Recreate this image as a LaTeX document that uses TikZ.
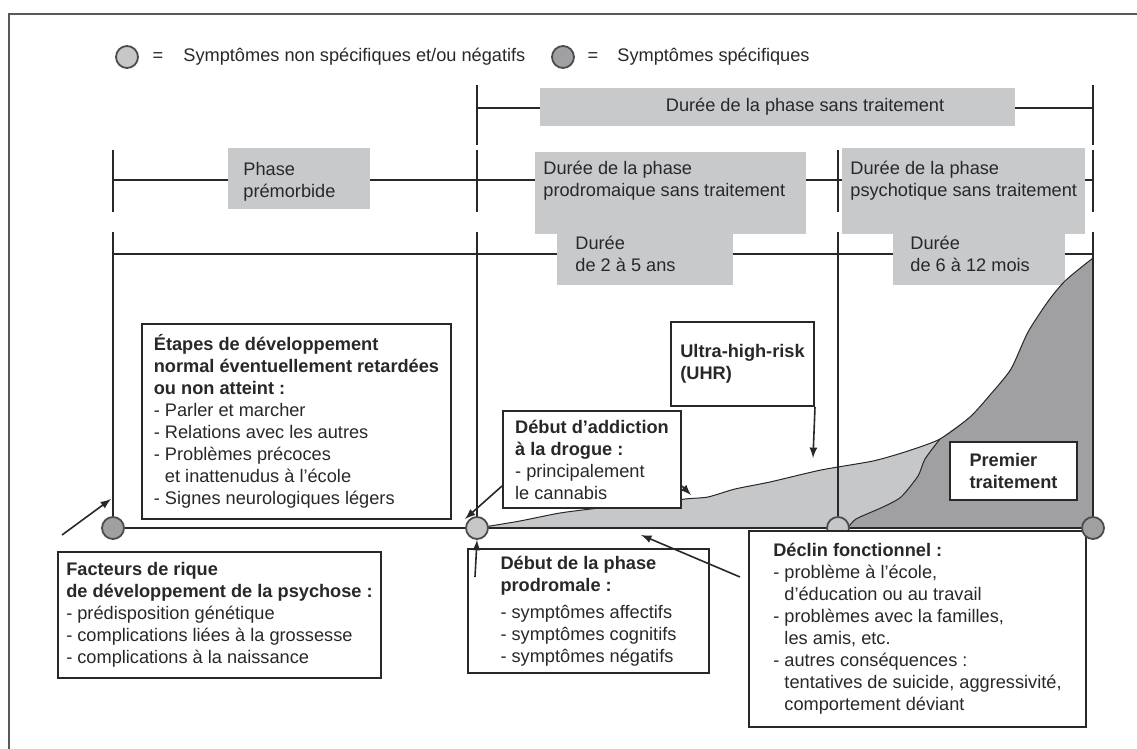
\documentclass[tikz,border=0pt]{standalone}
\usepackage{fontspec}
\setmainfont{Liberation Sans}
\usetikzlibrary{calc}

\definecolor{boxgray}{RGB}{200,201,203}
\definecolor{areagray}{RGB}{198,199,201}
\definecolor{deepgray}{RGB}{160,160,162}
\definecolor{inkgray}{RGB}{40,40,40}

\newcommand{\txt}{\fontsize{9.1}{11}\selectfont}

\tikzset{
	ink/.style={draw=inkgray, line width=0.8pt},
	phasebox/.style={fill=boxgray, anchor=north west, inner sep=0pt},
	phasetext/.style={anchor=west, align=left, inner sep=0pt, font=\txt, text=inkgray},
	infobox/.style={draw=inkgray, line width=1pt, fill=white, align=left, font=\txt, text=inkgray, inner sep=0pt, anchor=north west},
	lightdot/.style={circle, fill=areagray, draw=gray!60!black, line width=0.9pt, minimum size=11pt, inner sep=0pt},
	darkdot/.style={lightdot, fill=deepgray},
	pointer/.style={ink, -latex},
}

\begin{document}
\begin{tikzpicture}[x=0.5pt, y=-0.5pt]

	\useasboundingbox (0,0) rectangle (1137,749);

	% frame
	\draw[gray!70!black, line width=1pt] (9,749) -- (9,14) -- (1137,14);

	% legend
	\node[lightdot] (legA) at (127,57) {};
	\node[phasetext, anchor=center] (eqA) at (158,57) {=};
	\node[phasetext] (legAtxt) at (183,57) {Symptômes non spécifiques et/ou négatifs};
	\node[darkdot] (legB) at (563,57) {};
	\node[phasetext, anchor=center] (eqB) at (593,57) {=};
	\node[phasetext] (legBtxt) at (617,57) {Symptômes spécifiques};

	% timeline points
	\coordinate (t0) at (113,528);
	\coordinate (t1) at (477,528);
	\coordinate (t2) at (838,528);
	\coordinate (t3) at (1093,528);

	% row 1
	\coordinate (r1a) at (477,108);
	\coordinate (r1b) at (1093,108);
	\draw[ink] (r1a) -- (r1b);
	\draw[ink] ($(r1a)+(0,-23)$) -- ($(r1a)+(0,37)$);
	\draw[ink] ($(r1b)+(0,-23)$) -- ($(r1b)+(0,37)$);

	% row 2
	\coordinate (r2a) at (113,180);
	\coordinate (r2b) at (477,180);
	\coordinate (r2c) at (838,180);
	\coordinate (r2d) at (1093,180);
	\draw[ink] (r2a) -- (r2d);
	\draw[ink] ($(r2a)+(0,-30)$) -- ($(r2a)+(0,32)$);
	\draw[ink] ($(r2b)+(0,-30)$) -- ($(r2b)+(0,32)$);
	\draw[ink] ($(r2c)+(0,-30)$) -- ($(r2c)+(0,32)$);
	\draw[ink] ($(r2d)+(0,-30)$) -- ($(r2d)+(0,32)$);

	% row 3
	\coordinate (r3a) at (113,254);
	\coordinate (r3d) at (1093,254);
	\draw[ink] (r3a) -- (r3d);

	% phases
	\node[phasebox, minimum width=237.5pt, minimum height=19pt] (sansTrait) at (540,88) {};
	\node[phasetext, anchor=center] (sansTraitTxt) at (805,107) {Durée de la phase sans traitement};

	\node[phasebox, minimum width=71pt, minimum height=30.5pt] (prem) at (228,148) {};
	\node[phasetext] (premTxt) at (243,182) {Phase\\prémorbide};

	\node[phasebox, minimum width=135.5pt, minimum height=41pt] (prod) at (535,152) {};
	\node[phasetext] (prodTxt) at (543,181) {Durée de la phase\\prodromaique sans traitement};

	\node[phasebox, minimum width=121.5pt, minimum height=43pt] (psych) at (842,148) {};
	\node[phasetext] (psychTxt) at (850,181) {Durée de la phase\\psychotique sans traitement};

	\node[phasebox, minimum width=88pt, minimum height=26pt] (dur25) at (557,233) {};
	\node[phasetext] (dur25Txt) at (575,254) {Durée\\de 2 à 5 ans};

	\node[phasebox, minimum width=86pt, minimum height=26pt] (dur612) at (893,233) {};
	\node[phasetext] (dur612Txt) at (910,254) {Durée\\de 6 à 12 mois};

	% symptom areas
	\fill[areagray] plot[smooth, tension=0.4] coordinates {(477,528) (490,526) (520,521) (560,513) (600,508) (640,505) (685,499) (708,497) (735,489) (770,482) (821,470) (873,461) (908,451) (940,439) (970,417) (990,395) (1011,369) (1028,332) (1049,300) (1066,280) (1093,258)} -- (t3) -- cycle;
	\fill[deepgray] plot[smooth, tension=0.4] coordinates {(848,528) (856,519) (883,507) (901,497) (918,476) (925,459) (940,439) (970,417) (990,395) (1011,369) (1028,332) (1049,300) (1066,280) (1093,258)} -- (t3) -- cycle;
	\draw[inkgray, line width=0.5pt] plot[smooth, tension=0.4] coordinates {(477,528) (490,526) (520,521) (560,513) (600,508) (640,505) (685,499) (708,497) (735,489) (770,482) (821,470) (873,461) (908,451) (940,439) (970,417) (990,395) (1011,369) (1028,332) (1049,300) (1066,280) (1093,258)};
	\draw[inkgray, line width=0.5pt] plot[smooth, tension=0.4] coordinates {(848,528) (856,519) (883,507) (901,497) (918,476) (925,459) (940,439)};

	% long verticals and base line
	\draw[ink] ($(r3a)+(0,-22)$) -- (t0);
	\draw[ink] ($(t1)+(0,-296)$) -- (t1);
	\draw[ink] ($(t2)+(0,-296)$) -- (t2);
	\draw[ink, line width=1pt] ($(r3d)+(0,-22)$) -- (t3);
	\draw[ink, line width=1pt] (t0) -- (t3);

	\node[darkdot] (c0) at (t0) {};
	\node[lightdot] (c1) at (t1) {};
	\node[lightdot] (c2) at (t2) {};

	% text boxes
	\node[infobox, minimum width=154.5pt, minimum height=97.5pt] (etapes) at (141,323)
		{\textbf{Étapes de développement}\\\textbf{normal éventuellement retardées}\\\textbf{ou non atteint :}\\- Parler et marcher\\- Relations avec les autres\\- Problèmes précoces\\\phantom{- }et inattenudus à l'école\\- Signes neurologiques légers};

	\node[infobox, minimum width=161.5pt, minimum height=63pt] (facteurs) at (57,551)
		{\textbf{Facteurs de rique}\\\textbf{de développement de la psychose :}\\- prédisposition génétique\\- complications liées à la grossesse\\- complications à la naissance};

	\node[infobox, minimum width=89pt, minimum height=48.5pt] (addict) at (502,410)
		{\textbf{Début d’addiction}\\\textbf{à la drogue :}\\- principalement\\le cannabis};

	\node[infobox, minimum width=71.5pt, minimum height=42pt] (uhr) at (670,321)
		{\textbf{Ultra-high-risk}\\\textbf{(UHR)}};

	\node[infobox, minimum width=63.5pt, minimum height=29pt] (premier) at (949,441)
		{\textbf{Premier}\\\textbf{traitement}};

	\node[infobox, minimum width=120.5pt, minimum height=62pt] (debut) at (467,548)
		{\textbf{Début de la phase}\\\textbf{prodromale :}\\[2.5pt]- symptômes affectifs\\- symptômes cognitifs\\- symptômes négatifs};

	\node[infobox, minimum width=168.5pt, minimum height=98pt] (declin) at (748,530)
		{\textbf{Déclin fonctionnel :}\\- problème à l'école,\\\phantom{- }d’éducation ou au travail\\- problèmes avec la familles,\\\phantom{- }les amis, etc.\\- autres conséquences :\\\phantom{- }tentatives de suicide, aggressivité,\\\phantom{- }comportement déviant};

	\node[darkdot] (c3) at (t3) {};

	% pointers
	\coordinate (facteursTail) at (62,535);
	\coordinate (facteursHead) at (111,499);
	\draw[pointer] (facteursTail) -- (facteursHead);

	\coordinate (addictHead) at (465,519);
	\draw[pointer] ($(addict.south west)+(0,-23)$) -- (addictHead);
	\coordinate (addictCurve) at (691,495);
	\draw[pointer] ($(addict.south east)+(0,-23)$) -- (addictCurve);

	\coordinate (uhrHead) at (813,458);
	\draw[pointer] (uhr.south east) -- (uhrHead);

	\coordinate (declinTail) at (740,577);
	\coordinate (declinHead) at (641,535);
	\draw[pointer] (declinTail) -- (declinHead);

	\coordinate (debutTail) at (475,577);
	\draw[pointer] (debutTail) -- (c1.south);

\end{tikzpicture}
\end{document}
